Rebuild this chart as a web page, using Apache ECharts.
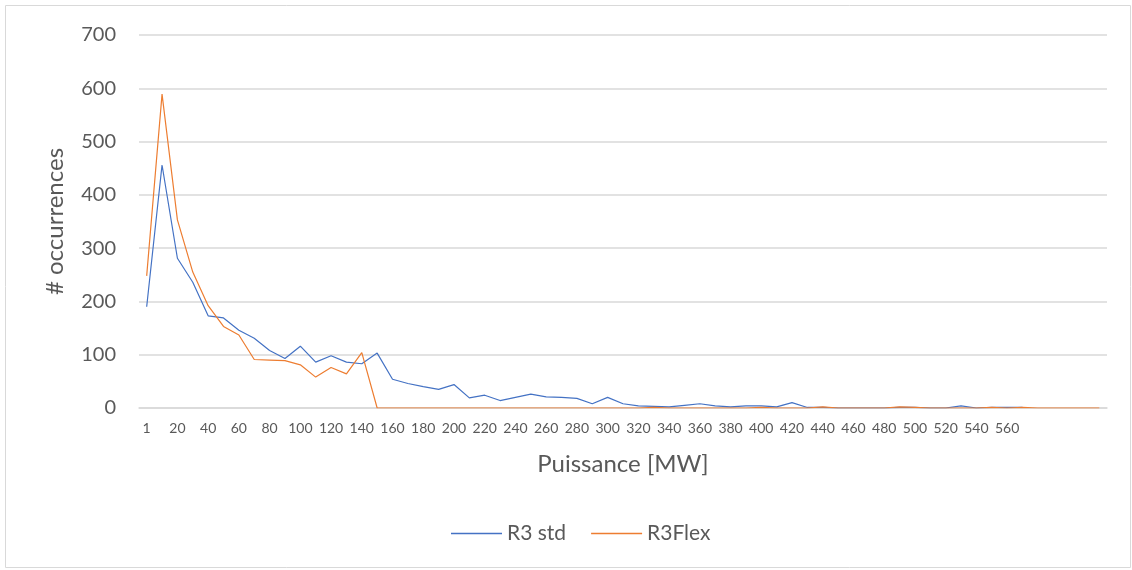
<!DOCTYPE html>
<html>
<head>
<meta charset="utf-8">
<script src="https://cdn.jsdelivr.net/npm/echarts@6/dist/echarts.min.js"></script>
<style>
  html, body { margin: 0; padding: 0; background: #fff; }
  #chart { width: 1132px; height: 570px; }
</style>
</head>
<body>
<div id="chart"></div>
<script>
// catégories de puissance (MW)
var categories = [1, 10, 20, 30, 40, 50, 60, 70, 80, 90, 100, 110, 120, 130, 140, 150, 160, 170, 180, 190,
    200, 210, 220, 230, 240, 250, 260, 270, 280, 290, 300, 310, 320, 330, 340, 350, 360, 370, 380, 390,
    400, 410, 420, 430, 440, 450, 460, 470, 480, 490, 500, 510, 520, 530, 540, 550, 560, 570, 580, 590,
    600, 610, 620];

// R3 std
var r3Std = [190, 456, 281, 236, 173, 169, 146, 131, 108, 93, 116, 86, 98, 86, 83, 103, 54, 46, 40, 35,
    44, 19, 24, 14, 20, 26, 21, 20, 18, 8, 20, 8, 4, 3, 2, 5, 8, 4, 2, 4,
    4, 2, 10, 1, 1, 0, 0, 0, 0, 1, 1, 0, 0, 4, 0, 1, 1, 1];

// R3Flex
var r3Flex = [248, 589, 353, 255, 192, 153, 137, 91, 90, 89, 81, 58, 76, 64, 104, 0, 0, 0, 0, 0,
    0, 0, 0, 0, 0, 0, 0, 0, 0, 0, 0, 0, 0, 1, 0, 0, 0, 0, 0, 0,
    1, 0, 0, 0, 2, 0, 0, 0, 0, 2, 1, 0, 0, 0, 0, 1, 0, 1, 0, 0,
    0, 0, 0];

var lastLabel = 560;
var font = 'Lato, "Liberation Sans", sans-serif';
var grey = '#595959';

var chart = echarts.init(document.getElementById('chart'));

var option = {
    animation: false,
    textStyle: { fontFamily: font },
    graphic: [{
        type: 'rect',
        shape: { x: 5.5, y: 5.5, width: 1125, height: 562 },
        style: { fill: 'none', stroke: '#D9D9D9', lineWidth: 1 },
        silent: true
    }],
    grid: { left: 139, right: 25, top: 35, bottom: 162 },
    legend: {
        left: 446,
        top: 518,
        icon: 'rect',
        itemWidth: 51,
        itemHeight: 1.3,
        itemGap: 25,
        itemTextGap: 6,
        textStyle: { fontFamily: font, fontSize: 21, color: grey },
        data: ['R3 std', 'R3Flex']
    },
    xAxis: {
        type: 'category',
        data: categories,
        boundaryGap: true,
        name: 'Puissance [MW]',
        nameLocation: 'middle',
        nameGap: 44,
        nameTextStyle: { fontFamily: font, fontSize: 24, color: grey },
        axisLine: { show: true, lineStyle: { color: '#D9D9D9', width: 1.5 } },
        axisTick: { show: false },
        axisLabel: {
            interval: 1,
            margin: 13,
            fontSize: 14,
            color: grey,
            fontFamily: font,
            formatter: function (v) { return +v > lastLabel ? '' : v; }
        },
        splitLine: { show: false }
    },
    yAxis: {
        type: 'value',
        min: 0,
        max: 700,
        interval: 100,
        name: '# occurrences',
        nameLocation: 'middle',
        nameGap: 72,
        nameTextStyle: { fontFamily: font, fontSize: 24, color: grey },
        axisLine: { show: false },
        axisTick: { show: false },
        axisLabel: { margin: 23, fontSize: 20, color: grey, fontFamily: font },
        splitLine: { lineStyle: { color: '#D9D9D9', width: 1.5 } }
    },
    series: [{
        name: 'R3 std',
        type: 'line',
        data: r3Std,
        symbol: 'none',
        lineStyle: { color: '#4472C4', width: 1.2 },
        itemStyle: { color: '#4472C4' }
    }, {
        name: 'R3Flex',
        type: 'line',
        data: r3Flex,
        symbol: 'none',
        lineStyle: { color: '#ED7D31', width: 1.2 },
        itemStyle: { color: '#ED7D31' }
    }]
};

chart.setOption(option);
</script>
</body>
</html>
